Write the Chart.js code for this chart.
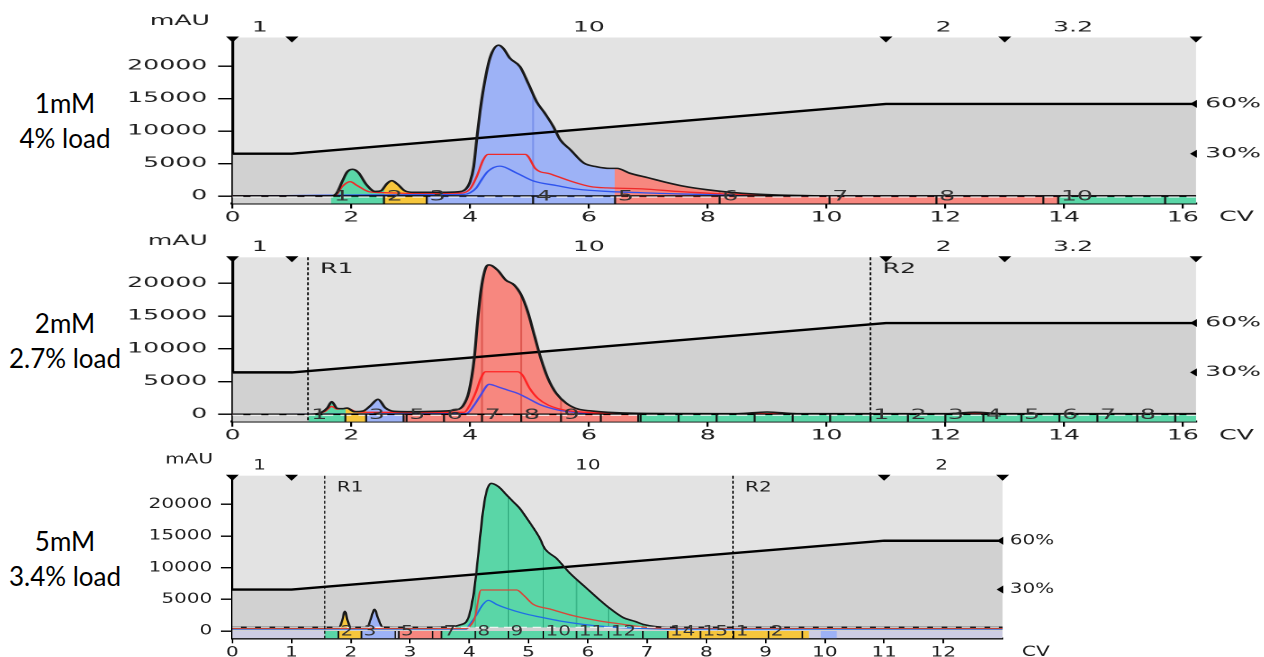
<!DOCTYPE html>
<html>
<head>
<meta charset="utf-8">
<script src="https://cdn.jsdelivr.net/npm/chart.js@4.4.1/dist/chart.umd.min.js"></script>
<style>
  html, body { margin: 0; padding: 0; background: #fff; }
  body { width: 1264px; height: 657px; position: relative; overflow: hidden; }
  .panel { position: absolute; left: 0; transform-origin: 0 0; }
  .panel canvas { display: block; }
  .sample { position: absolute; left: 0; width: 130px; text-align: center;
            font: 26px Lato, "Open Sans", sans-serif; line-height: 35px; color: #000; }
</style>
</head>
<body>
<div class="sample" style="top:85.5px">1mM<br>4% load</div>
<div class="sample" style="top:305.5px">2mM<br>2.7% load</div>
<div class="sample" style="top:523.5px">5mM<br>3.4% load</div>
<script>
document.addEventListener('DOMContentLoaded', () => {
    const TEXT = '#1e1e1e';
    const FONT_FAMILY = '"DejaVu Sans", sans-serif';
    const FONT = '14px ' + FONT_FAMILY;

    // shared axes
    const cvTicksWide = [0, 2, 4, 6, 8, 10, 12, 14, 16];
    const cvTicksNarrow = [0, 1, 2, 3, 4, 5, 6, 7, 8, 9, 10, 11, 12];
    const mauTicks = [0, 5000, 10000, 15000, 20000];
    const pctTicks = [30, 60];

    // elution gradient, % B
    const gradX = [0, 1, 11, 20];
    const gradY = [30, 30, 60, 60];

    // flow / step blocks along the top
    const stepX = [0, 1, 11, 13, 16.22];
    const stepLabel = ['1', '10', '2', '3.2'];
    const stepLabelX = [0.46, 6, 11.97, 14.15];
    const stepXShort = [0, 1, 11, 13];
    const stepLabelShort = ['1', '10', '2'];
    const stepLabelXShort = [0.46, 6, 11.97];

    // ---------- 1 mM, 4% load ----------
    const p1UvX = [0, 1.65, 1.75, 1.85, 1.93, 2.02, 2.12, 2.25, 2.4, 2.5, 2.6, 2.68, 2.78, 2.9, 3.05, 3.5, 3.8, 3.92, 4.0, 4.06,
                   4.11, 4.17, 4.25, 4.34, 4.48, 4.56, 4.67, 4.84, 4.98, 5.12, 5.26, 5.4, 5.52, 5.69, 5.91, 6.13, 6.35, 6.47, 6.69, 7.0,
                   7.3, 7.6, 8.0, 8.4, 8.8, 9.2, 9.6, 10.0, 16.5];
    const p1UvY = [0, 0, 400, 2300, 3700, 4100, 3600, 1800, 700, 800, 1900, 2350, 1800, 800, 570, 570, 650, 1000, 2200, 4500,
                   8600, 13200, 17800, 21400, 23200, 22700, 21200, 19900, 17300, 14500, 12700, 10700, 8600, 7100, 5100, 4500, 4250, 4250, 3500, 2800,
                   2100, 1500, 950, 550, 300, 150, 60, 0, 0];
    const p1RedX = [0, 1.72, 1.85, 1.98, 2.1, 2.3, 2.6, 3.0, 3.85, 4.0, 4.11, 4.22, 4.3, 4.93, 4.98, 5.1, 5.35, 5.69, 6.03, 6.3,
                    6.9, 7.5, 8.2, 9.0, 10.0, 16.5];
    const p1RedY = [0, 0, 1500, 2200, 1600, 660, 500, 400, 450, 1100, 2970, 5540, 6400, 6400, 6050, 4200, 3400, 2300, 1450, 1250,
                    1100, 700, 350, 120, 0, 0];
    const p1BlueX = [0, 3.2, 3.9, 4.0, 4.1, 4.2, 4.3, 4.5, 4.79, 5.07, 5.46, 5.8, 6.35, 6.9, 7.6, 8.5, 9.5, 16.5];
    const p1BlueY = [0, 200, 250, 500, 1200, 2600, 3800, 4600, 3500, 2300, 1600, 1050, 680, 500, 300, 150, 0, 0];
    const p1FracStart = [1.66, 2.55, 3.27, 5.06, 6.44, 8.2, 10.05, 11.85, 13.65, 13.9, 15.7];
    const p1FracEnd   = [2.55, 3.27, 5.06, 6.44, 8.2, 10.05, 11.85, 13.65, 13.9, 15.7, 16.5];
    const p1FracLabel = ['1', '2', '3', '4', '5', '6', '7', '8', '', '10', ''];
    const p1FracPool  = ['g', 'y', 'b', 'b', 'r', 'r', 'r', 'r', 'r', 'g', 'g'];

    // ---------- 2 mM, 2.7% load ----------
    const p2UvX = [0, 1.3, 1.5, 1.6, 1.67, 1.76, 1.85, 1.93, 2.05, 2.2, 2.32, 2.45, 2.57, 2.72, 2.94, 3.5, 3.75, 3.88, 3.98, 4.07,
                   4.12, 4.18, 4.26, 4.32, 4.46, 4.6, 4.74, 4.86, 4.97, 5.08, 5.19, 5.31, 5.45, 5.62, 5.81, 6.04, 6.32, 6.83, 8.5, 9.0,
                   9.5, 12.0, 12.5, 13.0, 16.5];
    const p2UvY = [0, 0, 300, 1000, 1930, 900, 850, 950, 400, 500, 1300, 2290, 1000, 450, 400, 480, 650, 1300, 3460, 8550,
                   13640, 18730, 22290, 22800, 22030, 20500, 19750, 18220, 15670, 12110, 8550, 5500, 3200, 1680, 810, 510, 300, 150, 100, 350,
                   100, 100, 300, 100, 100];
    const p2RedX = [0, 1.3, 1.55, 1.67, 1.76, 1.93, 2.1, 2.4, 3.9, 3.98, 4.1, 4.18, 4.26, 4.8, 4.88, 5.0, 5.14, 5.31, 5.53, 5.8,
                    6.2, 7.0, 16.5];
    const p2RedY = [0, 0, 400, 1200, 800, 900, 350, 300, 300, 1170, 3460, 5500, 6500, 6500, 6000, 4000, 2440, 1430, 760, 400,
                    200, 100, 100];
    const p2BlueX = [0, 3.9, 3.95, 4.07, 4.18, 4.32, 4.46, 4.63, 4.8, 4.97, 5.19, 5.48, 5.76, 6.2, 7.0, 16.5];
    const p2BlueY = [0, 100, 150, 1430, 2950, 4580, 4220, 3700, 3200, 2440, 1430, 660, 300, 100, 50, 50];
    const p2FracStart = [1.28, 1.9, 2.25, 2.88, 2.93, 3.56, 4.2, 4.86, 5.53, 6.2, 6.83, 6.87, 7.51, 8.15, 8.79, 9.43, 10.06,
                         10.74, 11.37, 12.0, 12.64, 13.28, 13.92, 14.56, 15.23, 15.87];
    const p2FracEnd   = [1.9, 2.25, 2.88, 2.93, 3.56, 4.2, 4.86, 5.53, 6.2, 6.83, 6.87, 7.51, 8.15, 8.79, 9.43, 10.06, 10.74,
                         11.37, 12.0, 12.64, 13.28, 13.92, 14.56, 15.23, 15.87, 16.5];
    const p2FracLabel = ['1', '', '3', '', '5', '6', '7', '8', '9', '', '', '', '', '', '', '', '',
                         '1', '2', '3', '4', '5', '6', '7', '8', ''];
    const p2FracPool  = ['g', 'y', 'b', 'r', 'r', 'r', 'r', 'r', 'r', 'r', 'g', 'g', 'g', 'g', 'g', 'g', 'g',
                         'g', 'g', 'g', 'g', 'g', 'g', 'g', 'g', 'g'];
    const p2RunX = [1.27, 10.74];
    const p2RunLabel = ['R1', 'R2'];

    // ---------- 5 mM, 3.4% load ----------
    const p3UvX = [0, 1.8, 1.85, 1.9, 1.95, 2.0, 2.28, 2.34, 2.4, 2.46, 2.54, 3.0, 3.6, 3.84, 3.98, 4.06, 4.12, 4.18, 4.23, 4.29,
                   4.37, 4.49, 4.63, 4.74, 4.85, 4.99, 5.19, 5.27, 5.47, 5.7, 5.98, 6.2, 6.37, 6.6, 6.8, 6.95, 7.15, 7.4, 13.5];
    const p3UvY = [580, 580, 1500, 3100, 1500, 580, 600, 2000, 3400, 2000, 600, 580, 620, 950, 2000, 5160, 9370, 14630, 18840, 22000,
                   23300, 22800, 21470, 20420, 19370, 17530, 14630, 13050, 11470, 9100, 6740, 4900, 3580, 2100, 1500, 1000, 680, 580, 580];
    const p3RedX = [0, 3.95, 4.0, 4.09, 4.2, 4.8, 4.91, 5.08, 5.36, 5.75, 6.2, 6.6, 6.88, 7.2, 13.5];
    const p3RedY = [400, 400, 680, 2000, 6470, 6470, 5700, 4200, 3470, 2420, 1580, 1050, 680, 450, 400];
    const p3BlueX = [0, 3.95, 3.98, 4.12, 4.23, 4.32, 4.46, 4.63, 4.91, 5.19, 5.53, 5.92, 6.32, 6.88, 7.3, 13.5];
    const p3BlueY = [300, 300, 680, 2530, 4200, 4840, 4200, 3580, 2790, 2210, 1580, 1050, 680, 420, 300, 300];
    const p3FracStart = [1.56, 1.79, 2.18, 2.75, 2.81, 3.38, 3.53, 4.10, 4.66, 5.25, 5.81, 6.35, 6.93, 7.35, 7.90, 8.46, 9.05, 9.62, 9.93];
    const p3FracEnd   = [1.79, 2.18, 2.75, 2.81, 3.38, 3.53, 4.10, 4.66, 5.25, 5.81, 6.35, 6.93, 7.35, 7.90, 8.46, 9.05, 9.62, 9.73, 10.2];
    const p3FracLabel = ['', '2', '3', '', '5', '', '7', '8', '9', '10', '11', '12', '', '14', '15', '1', '2', '', ''];
    const p3FracPool  = ['g', 'y', 'b', 'n', 'r', 'r', 'g', 'g', 'g', 'g', 'g', 'g', 'g', 'y', 'y', 'y', 'y', 'y', 'b'];
    const p3RunX = [1.56, 8.45];
    const p3RunLabel = ['R1', 'R2'];

    const POOL = {
        g: { fill: '#5ad6a7', line: '#38b285' },
        y: { fill: '#f6c63c', line: '#d9a820' },
        b: { fill: '#9db2f6', line: '#7a92ec' },
        r: { fill: '#f7877f', line: '#de5850' },
        n: { fill: null, line: null }
    };

    // layout is given in final (stretched) page pixels, s = horizontal stretch of the panel
    const PANELS = [
        { top: 0, height: 225, pageWidth: 1264, s: 1.8, left: 232.5, right: 1196, plotTop: 37.5, plotBottom: 203.5,
          mauRight: 210, cvLeft: 1219, xMax: 16.22, xTicks: cvTicksWide, yMin: -1154, yMax: 24385,
          fillBase: 0, dashLevel: -150, zeroLine: true, stripBg: null,
          uv: [p1UvX, p1UvY], red: [p1RedX, p1RedY], blue: [p1BlueX, p1BlueY], redColor: '#ee2a2a', blueColor: '#2f54ee',
          frac: { start: p1FracStart, end: p1FracEnd, label: p1FracLabel, pool: p1FracPool },
          steps: stepX, stepLabel: stepLabel, stepLabelX: stepLabelX, runX: [], runLabel: [] },
        { top: 225, height: 220, pageWidth: 1264, s: 1.8, left: 232.5, right: 1196, plotTop: 32.3, plotBottom: 196.7,
          mauRight: 208, cvLeft: 1219, xMax: 16.22, xTicks: cvTicksWide, yMin: -1130, yMax: 23969,
          fillBase: 0, dashLevel: -150, zeroLine: true, stripBg: null,
          uv: [p2UvX, p2UvY], red: [p2RedX, p2RedY], blue: [p2BlueX, p2BlueY], redColor: '#ff2424', blueColor: '#4848e6',
          frac: { start: p2FracStart, end: p2FracEnd, label: p2FracLabel, pool: p2FracPool },
          steps: stepX, stepLabel: stepLabel, stepLabelX: stepLabelX, runX: p2RunX, runLabel: p2RunLabel },
        { top: 445, height: 212, pageWidth: 1100, s: 1.43, left: 232.3, right: 1002.6, plotTop: 30.7, plotBottom: 193.3,
          mauRight: 213, cvLeft: 1022, xMax: 13, xTicks: cvTicksNarrow, yMin: -1152, yMax: 24515,
          fillBase: 580, dashLevel: 580, zeroLine: false, stripBg: '#cdcde3',
          uv: [p3UvX, p3UvY], red: [p3RedX, p3RedY], blue: [p3BlueX, p3BlueY], redColor: '#d6483a', blueColor: '#1f6ee6',
          frac: { start: p3FracStart, end: p3FracEnd, label: p3FracLabel, pool: p3FracPool },
          steps: stepXShort, stepLabel: stepLabelShort, stepLabelX: stepLabelXShort, runX: p3RunX, runLabel: p3RunLabel }
    ];

    const xy = (xs, ys) => xs.map((x, i) => ({ x, y: ys[i] }));

    // horizontal canvas gradient with hard stops = pool colours under the UV trace
    function poolFill(chart, fr) {
        const area = chart.chartArea;
        if (!area) return 'rgba(0,0,0,0)';
        const xs = chart.scales.x;
        const w = area.right - area.left;
        const off = v => Math.min(1, Math.max(0, (xs.getPixelForValue(v) - area.left) / w));
        const g = chart.ctx.createLinearGradient(area.left, 0, area.right, 0);
        const clear = 'rgba(255,255,255,0)';
        g.addColorStop(0, clear);
        let last = 0;
        fr.start.forEach((s, i) => {
            const col = POOL[fr.pool[i]].fill;
            if (!col) return;
            const a = Math.max(off(s), last);
            const b = Math.max(off(fr.end[i]), a);
            g.addColorStop(a, clear);
            g.addColorStop(a, col);
            g.addColorStop(b, col);
            g.addColorStop(b, clear);
            last = b;
        });
        g.addColorStop(1, clear);
        return g;
    }

    function makeOverlay(p) {
        return {
            id: 'overlay',
            beforeDraw(chart) {
                const { ctx, chartArea: a } = chart;
                ctx.save();
                ctx.fillStyle = '#e3e3e3';
                ctx.fillRect(a.left, a.top, a.right - a.left, a.bottom - a.top);
                ctx.restore();
            },
            beforeDatasetsDraw(chart) {
                const { ctx, chartArea: a, scales: { x, y } } = chart;
                const fr = p.frac;
                const y0 = y.getPixelForValue(0);
                ctx.save();
                ctx.beginPath();
                ctx.rect(a.left, a.top, a.right - a.left, a.bottom - a.top);
                ctx.clip();
                // fraction strip below the baseline
                if (p.stripBg) {
                    ctx.fillStyle = p.stripBg;
                    ctx.fillRect(a.left, y0, a.right - a.left, a.bottom - y0);
                }
                fr.start.forEach((s, i) => {
                    const col = POOL[fr.pool[i]].fill;
                    if (!col) return;
                    const x1 = x.getPixelForValue(s);
                    const x2 = x.getPixelForValue(fr.end[i]);
                    ctx.fillStyle = col;
                    ctx.fillRect(x1, y0, x2 - x1, a.bottom - y0);
                });
                // fraction cuts inside a pooled peak, clipped to the area under the UV trace
                const uvIndex = chart.data.datasets.findIndex(d => d.role === 'uv');
                const line = chart.getDatasetMeta(uvIndex).dataset;
                const yb = y.getPixelForValue(p.fillBase);
                ctx.beginPath();
                line.path(ctx);
                ctx.lineTo(a.right + 50, yb);
                ctx.lineTo(a.left, yb);
                ctx.closePath();
                ctx.clip();
                ctx.lineWidth = 1;
                fr.start.forEach((s, i) => {
                    if (i === 0 || fr.end[i - 1] !== s || fr.pool[i - 1] !== fr.pool[i]) return;
                    const col = POOL[fr.pool[i]].line;
                    if (!col) return;
                    const px = x.getPixelForValue(s);
                    ctx.strokeStyle = col;
                    ctx.beginPath();
                    ctx.moveTo(px, yb);
                    ctx.lineTo(px, a.top);
                    ctx.stroke();
                });
                ctx.restore();
            },
            afterDatasetsDraw(chart) {
                const { ctx, chartArea: a, scales: { x, y, y2 } } = chart;
                const fr = p.frac;
                const y0 = y.getPixelForValue(0);
                ctx.save();
                ctx.font = FONT;

                // fraction ticks and numbers
                ctx.save();
                ctx.beginPath();
                ctx.rect(a.left, a.top, a.right - a.left, a.bottom - a.top + 1);
                ctx.clip();
                ctx.strokeStyle = '#111';
                ctx.lineWidth = 1.1;
                ctx.textAlign = 'left';
                ctx.textBaseline = 'middle';
                ctx.fillStyle = '#333';
                fr.start.forEach((s, i) => {
                    const px = x.getPixelForValue(s);
                    if (i > 0 && fr.end[i - 1] === s) {
                        ctx.beginPath();
                        ctx.moveTo(px, y0);
                        ctx.lineTo(px, a.bottom);
                        ctx.stroke();
                    }
                    if (fr.label[i]) ctx.fillText(fr.label[i], px + 1.5, y0 + 1);
                });
                ctx.restore();

                // run markers R1 / R2
                ctx.fillStyle = TEXT;
                p.runX.forEach((v, i) => {
                    const px = x.getPixelForValue(v);
                    ctx.save();
                    ctx.strokeStyle = '#000';
                    ctx.lineWidth = 0.9;
                    ctx.setLineDash([3, 2]);
                    ctx.beginPath();
                    ctx.moveTo(px, a.top);
                    ctx.lineTo(px, a.bottom);
                    ctx.stroke();
                    ctx.restore();
                    ctx.textAlign = 'left';
                    ctx.textBaseline = 'middle';
                    ctx.fillText(p.runLabel[i], px + 12 / p.s, a.top + 12);
                });

                // step markers on the top edge
                ctx.fillStyle = '#000';
                const hw = 6.5 / p.s;
                p.steps.forEach(v => {
                    const px = x.getPixelForValue(v);
                    ctx.beginPath();
                    ctx.moveTo(px - hw, a.top - 1);
                    ctx.lineTo(px + hw, a.top - 1);
                    ctx.lineTo(px, a.top + 5);
                    ctx.closePath();
                    ctx.fill();
                });
                ctx.fillStyle = TEXT;
                ctx.textAlign = 'center';
                ctx.textBaseline = 'middle';
                p.stepLabel.forEach((t, i) => ctx.fillText(t, x.getPixelForValue(p.stepLabelX[i]), a.top - 9.7));
                ctx.textAlign = 'right';
                ctx.fillText('mAU', p.mauRight / p.s, a.top - 16);

                // % markers on the right edge
                ctx.fillStyle = '#000';
                pctTicks.forEach(v => {
                    const py = y2.getPixelForValue(v);
                    ctx.beginPath();
                    ctx.moveTo(a.right + 0.5, py - 4);
                    ctx.lineTo(a.right + 0.5, py + 4);
                    ctx.lineTo(a.right - 6 / p.s, py);
                    ctx.closePath();
                    ctx.fill();
                });

                ctx.fillStyle = TEXT;
                ctx.textAlign = 'left';
                ctx.fillText('CV', p.cvLeft / p.s, a.bottom + 14);
                ctx.restore();
            }
        };
    }

    PANELS.forEach((p, n) => {
        const W = Math.round(p.pageWidth / p.s);
        const H = p.height;
        const box = document.createElement('div');
        box.className = 'panel';
        box.style.top = p.top + 'px';
        box.style.width = W + 'px';
        box.style.height = H + 'px';
        box.style.transform = 'scaleX(' + p.s + ')';
        const canvas = document.createElement('canvas');
        canvas.width = W;
        canvas.height = H;
        box.appendChild(canvas);
        document.body.appendChild(box);

        const font = { family: FONT_FAMILY, size: 14 };
        const datasets = [
            { role: 'gradFill', data: xy(gradX, gradY), yAxisID: 'y2', borderColor: 'rgba(0,0,0,0)', borderWidth: 0,
              pointRadius: 0, fill: 'start', backgroundColor: '#d1d1d1', order: 10 },
            { role: 'uv', data: xy(p.uv[0], p.uv[1]), yAxisID: 'y', borderColor: '#1a1a1a', borderWidth: 1.6,
              pointRadius: 0, cubicInterpolationMode: 'monotone', fill: { value: p.fillBase },
              backgroundColor: c => poolFill(c.chart, p.frac), order: 1 },
            { data: xy(p.red[0], p.red[1]), yAxisID: 'y', borderColor: p.redColor, borderWidth: 1.3,
              pointRadius: 0, cubicInterpolationMode: 'monotone', fill: false, order: 2 },
            { data: xy(p.blue[0], p.blue[1]), yAxisID: 'y', borderColor: p.blueColor, borderWidth: 1.3,
              pointRadius: 0, cubicInterpolationMode: 'monotone', fill: false, order: 3 },
            { data: xy(gradX, gradY), yAxisID: 'y2', borderColor: '#000', borderWidth: 2.4,
              pointRadius: 0, fill: false, order: 4 },
            { data: xy([0, p.xMax], [p.dashLevel, p.dashLevel]), yAxisID: 'y', borderColor: 'rgba(255,255,255,0.85)',
              borderWidth: 1.2, borderDash: [6, 4], pointRadius: 0, fill: false, order: 0 }
        ];
        if (p.zeroLine) {
            datasets.push({ data: xy([0, p.xMax], [0, 0]), yAxisID: 'y', borderColor: '#000', borderWidth: 1.5,
                            pointRadius: 0, fill: false, order: 0.5 });
        }

        new Chart(canvas, {
            type: 'line',
            data: { datasets },
            plugins: [makeOverlay(p)],
            options: {
                responsive: false,
                animation: false,
                devicePixelRatio: 2,
                events: [],
                layout: { padding: { top: p.plotTop, left: 0, right: 0, bottom: 0 } },
                plugins: {
                    legend: { display: false },
                    tooltip: { enabled: false },
                    filler: { drawTime: 'beforeDatasetsDraw' }
                },
                scales: {
                    x: {
                        type: 'linear', position: 'bottom', min: 0, max: p.xMax,
                        afterBuildTicks: s => { s.ticks = p.xTicks.map(v => ({ value: v })); },
                        afterFit: s => { s.height = H - p.plotBottom; },
                        border: { display: true, color: '#000', width: 2 },
                        grid: { drawOnChartArea: false, drawTicks: true, tickLength: 5, color: '#000', lineWidth: 1.1 },
                        ticks: { font, color: TEXT, padding: 1, autoSkip: false, maxRotation: 0, callback: v => String(v) }
                    },
                    y: {
                        type: 'linear', position: 'left', min: p.yMin, max: p.yMax,
                        afterBuildTicks: s => { s.ticks = mauTicks.map(v => ({ value: v })); },
                        afterFit: s => { s.width = p.left / p.s; },
                        border: { display: true, color: '#000', width: 1.6 },
                        grid: { drawOnChartArea: false, drawTicks: true, tickLength: 8, color: '#000', lineWidth: 1.4 },
                        ticks: { font, color: TEXT, padding: 6, callback: v => String(v) }
                    },
                    y2: {
                        type: 'linear', position: 'right', min: 0, max: 100,
                        afterBuildTicks: s => { s.ticks = pctTicks.map(v => ({ value: v })); },
                        afterFit: s => { s.width = W - p.right / p.s; },
                        border: { display: false },
                        grid: { display: false, drawTicks: false },
                        ticks: { font, color: TEXT, padding: 5, callback: v => v + '%' }
                    }
                }
            }
        });
    });
});
</script>
</body>
</html>
